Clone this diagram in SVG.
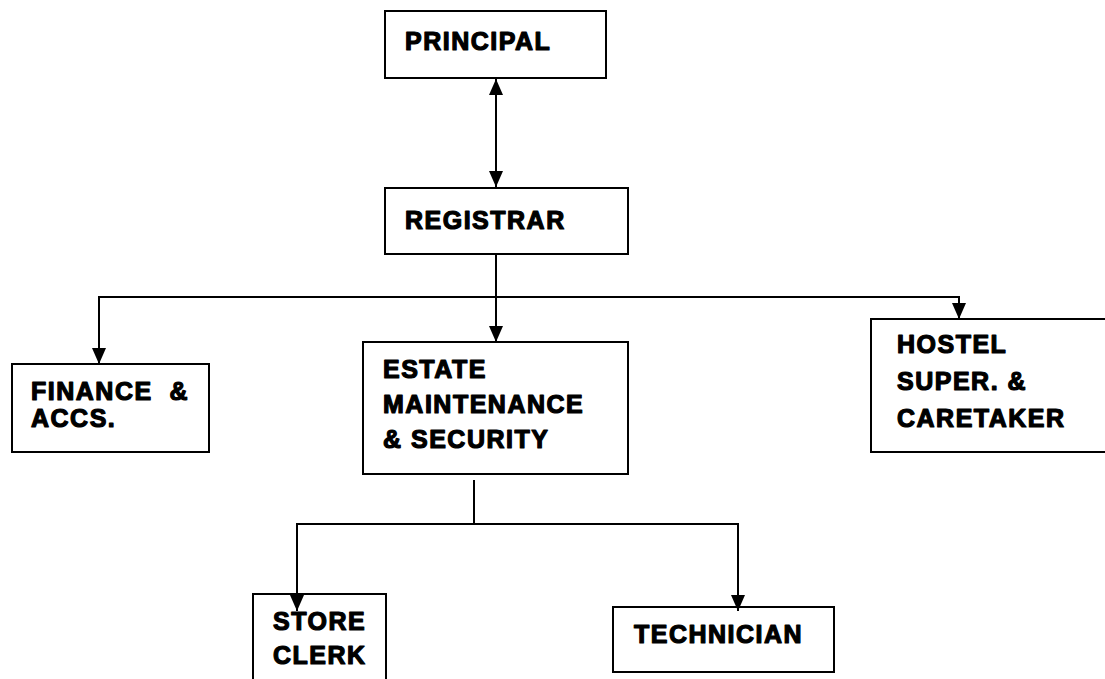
<svg xmlns="http://www.w3.org/2000/svg" width="1105" height="679" viewBox="0 0 1105 679">
  <style>
    .box { fill: #ffffff; stroke: #000000; stroke-width: 2; }
    .lbl { font-family: "Liberation Sans", Arial, sans-serif; font-weight: bold; font-size: 25px; letter-spacing: 1.5px; fill: #000000; stroke: #000000; stroke-width: 1.2; stroke-linejoin: round; white-space: pre; }
    .wire { fill: none; stroke: #000000; stroke-width: 2; }
  </style>
  <defs>
    <marker id="head" markerUnits="userSpaceOnUse" markerWidth="16" markerHeight="14" viewBox="0 0 16 14" refX="16" refY="7" orient="auto-start-reverse">
      <path d="M0,0 L16,7 L0,14 Z" fill="#000000"/>
    </marker>
  </defs>

  <rect width="1105" height="679" fill="#ffffff"/>

  <g id="principal">
    <rect class="box" x="385" y="11" width="221" height="67"/>
    <text class="lbl" x="405" y="50">PRINCIPAL</text>
  </g>

  <g id="registrar">
    <rect class="box" x="385" y="188" width="243" height="66"/>
    <text class="lbl" x="405" y="229">REGISTRAR</text>
  </g>

  <g id="finance">
    <rect class="box" x="12" y="364" width="197" height="88"/>
    <text class="lbl" x="31" y="400">FINANCE  &amp;</text>
    <text class="lbl" x="31" y="427">ACCS.</text>
  </g>

  <g id="estate">
    <rect class="box" x="363" y="342" width="265" height="132"/>
    <text class="lbl" x="383" y="378">ESTATE</text>
    <text class="lbl" x="383" y="413">MAINTENANCE</text>
    <text class="lbl" x="383" y="448">&amp; SECURITY</text>
  </g>

  <g id="hostel">
    <rect class="box" x="871" y="319" width="240" height="133"/>
    <text class="lbl" x="897" y="353">HOSTEL</text>
    <text class="lbl" x="897" y="390">SUPER. &amp;</text>
    <text class="lbl" x="897" y="427">CARETAKER</text>
  </g>

  <g id="store-clerk">
    <rect class="box" x="253" y="594" width="133" height="100"/>
    <text class="lbl" x="273" y="630">STORE</text>
    <text class="lbl" x="273" y="664">CLERK</text>
  </g>

  <g id="technician">
    <rect class="box" x="613" y="607" width="221" height="65"/>
    <text class="lbl" x="634" y="643">TECHNICIAN</text>
  </g>

  <g id="connectors">
    <!-- principal <-> registrar -->
    <line class="wire" x1="496" y1="79" x2="496" y2="187" marker-start="url(#head)" marker-end="url(#head)"/>
    <!-- registrar down to estate -->
    <line class="wire" x1="496" y1="254" x2="496" y2="342" marker-end="url(#head)"/>
    <!-- branch bar -->
    <line class="wire" x1="99" y1="297" x2="959" y2="297"/>
    <line class="wire" x1="99" y1="296" x2="99" y2="364" marker-end="url(#head)"/>
    <line class="wire" x1="959" y1="296" x2="959" y2="319" marker-end="url(#head)"/>
    <!-- estate down to store clerk and technician -->
    <line class="wire" x1="474" y1="480" x2="474" y2="524"/>
    <line class="wire" x1="297" y1="524" x2="738" y2="524"/>
    <line class="wire" x1="297" y1="523" x2="297" y2="611" marker-end="url(#head)"/>
    <line class="wire" x1="738" y1="523" x2="738" y2="611" marker-end="url(#head)"/>
  </g>
</svg>
